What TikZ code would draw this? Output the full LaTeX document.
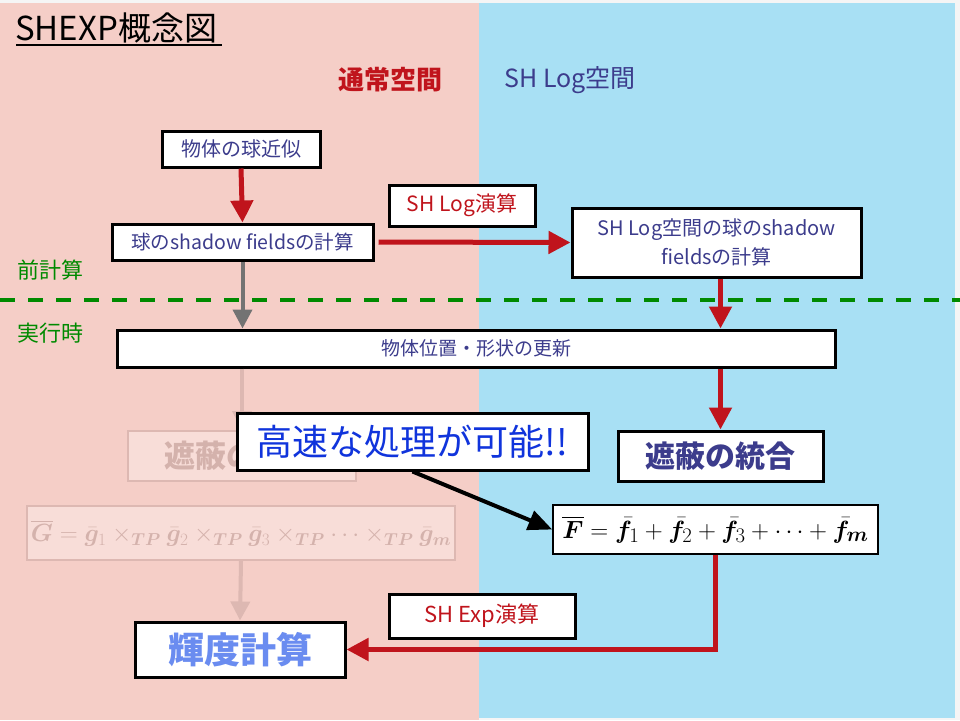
\documentclass[tikz,border=0pt]{standalone}
\usepackage{fontspec}
\setmainfont{Noto Sans CJK JP}
\usepackage{amsmath,bm}
\usetikzlibrary{arrows.meta}
\definecolor{pinkbg}{HTML}{F5CEC7}
\definecolor{bluebg}{HTML}{A8E0F4}
\definecolor{redc}{HTML}{C0141C}
\definecolor{navy}{HTML}{3C3C8C}
\definecolor{greenc}{HTML}{008A00}
\definecolor{fadeb}{HTML}{DDB8B2}
\definecolor{fadet}{HTML}{D4B2AC}
\definecolor{hiblue}{HTML}{1034DC}
\definecolor{lightblue}{HTML}{6A8CF0}
\newcommand{\fs}[1]{\fontsize{#1}{#1}\selectfont}
\tikzset{
  box/.style={draw=black, line width=3pt, fill=white, inner sep=0pt, align=center},
  fadebox/.style={draw=fadeb, line width=2pt, fill=pinkbg!70!white, inner sep=0pt, align=center},
  redarrow/.style={draw=redc, line width=5pt, -{Triangle[width=22pt,length=22pt]}},
  grayarrow/.style={draw=black!55, line width=4pt, -{Triangle[width=19pt,length=19pt]}},
  fadearrow/.style={draw=fadeb, line width=4pt, -{Triangle[width=19pt,length=19pt]}},
  blackarrow/.style={draw=black, line width=4pt, -{Triangle[width=20pt,length=24pt]}},
}
\begin{document}
\begin{tikzpicture}[x=1pt,y=-1pt]
\useasboundingbox (0,0) rectangle (960,720);
\fill[black!4] (0,0) rectangle (960,720);
\fill[pinkbg] (0,3) rectangle (479,720);
\fill[bluebg] (479,3) rectangle (955,718);
% title
\node[anchor=west, inner sep=0pt, text=black, font=\fs{33}] (title) at (15,28) {SHEXP概念図};
\draw[line width=2pt] (16,45) -- (222,45);
\node[text=redc, font=\fs{26}\bfseries, inner sep=0pt] (space1) at (390,80) {通常空間};
\node[text=navy, font=\fs{25}, inner sep=0pt] (space2) at (570,80) {SH Log空間};
% phase labels
\node[text=greenc, font=\fs{22}, inner sep=0pt] (pre) at (50,270) {前計算};
\node[text=greenc, font=\fs{22}, inner sep=0pt] (run) at (50,333) {実行時};
\draw[greenc, line width=4pt, dash pattern=on 15pt off 13pt] (0,300) -- (960,300);
% faded boxes
\node[fadebox, minimum width=228pt, minimum height=50pt, text=fadet, font=\fs{31}\bfseries] (f1) at (242,456) {遮蔽の統合};
\node[fadebox, minimum width=428pt, minimum height=54pt, text=fadet, font=\fs{25}] (f2) at (241,533)
  {$\overline{\bm{G}} = \bar{\bm{g}}_1 \times_{\bm{TP}} \bar{\bm{g}}_2 \times_{\bm{TP}} \bar{\bm{g}}_3 \times_{\bm{TP}} \cdots \times_{\bm{TP}} \bar{\bm{g}}_{\bm{m}}$};
% main boxes
\node[box, minimum width=158pt, minimum height=36pt, text=navy, font=\fs{20}] (n1) at (241,149) {物体の球近似};
\node[box, minimum width=261pt, minimum height=36pt, text=navy, font=\fs{19.5}] (n2) at (242.5,242) {球のshadow fieldsの計算};
\node[box, minimum width=146pt, minimum height=41pt, text=redc, font=\fs{21}] (l1) at (462,205.5) {SH Log演算};
\node[box, minimum width=289pt, minimum height=69pt, text=navy, font=\fontsize{20}{29}\selectfont] (n3) at (716.5,242.5) {SH Log空間の球のshadow\\fieldsの計算};
\node[box, minimum width=718pt, minimum height=37pt, text=navy, font=\fs{19}] (n4) at (476,348.5) {物体位置・形状の更新};
\node[box, minimum width=205pt, minimum height=50pt, text=navy, font=\fs{30}\bfseries] (n5) at (720.5,456) {遮蔽の統合};
\node[box, line width=1.5pt, minimum width=325pt, minimum height=49pt, text=black, font=\fs{28}] (n6) at (715.5,529.5)
  {$\overline{\bm{F}} = \bar{\bm{f}}_1 + \bar{\bm{f}}_2 + \bar{\bm{f}}_3 + \cdots + \bar{\bm{f}}_{\bm{m}}$};
\node[box, minimum width=210pt, minimum height=55pt, text=lightblue, font=\fs{36}\bfseries] (n7) at (240,649.5) {輝度計算};
\node[box, minimum width=186pt, minimum height=44pt, text=redc, font=\fs{22}] (l2) at (482,616) {SH Exp演算};
% connectors
\draw[redarrow] (n1.south) -- (n2.north);
\draw[redarrow] ([xshift=4pt]n2.east) -- (n3.west);
\draw[grayarrow] (n2.south) -- (n4.north -| n2.south);
\draw[redarrow] (n3.south -| n5.north) -- (n4.north -| n5.north);
\draw[redarrow] (n4.south -| n5.north) -- (n5.north);
\draw[fadearrow] (n4.south -| f1.north) -- (f1.north);
\draw[fadearrow] (f2.south) -- (n7.north);
\draw[redc, line width=5pt, -{Triangle[width=22pt,length=22pt]}] (n6.south) |- (n7.east);
% highlight
\node[box, minimum width=351pt, minimum height=57pt, text=hiblue, font=\fs{36}] (hi) at (412.5,441.5) {高速な処理が可能!!};
\draw[blackarrow] (hi.south) -- (n6.west);
\end{tikzpicture}
\end{document}
